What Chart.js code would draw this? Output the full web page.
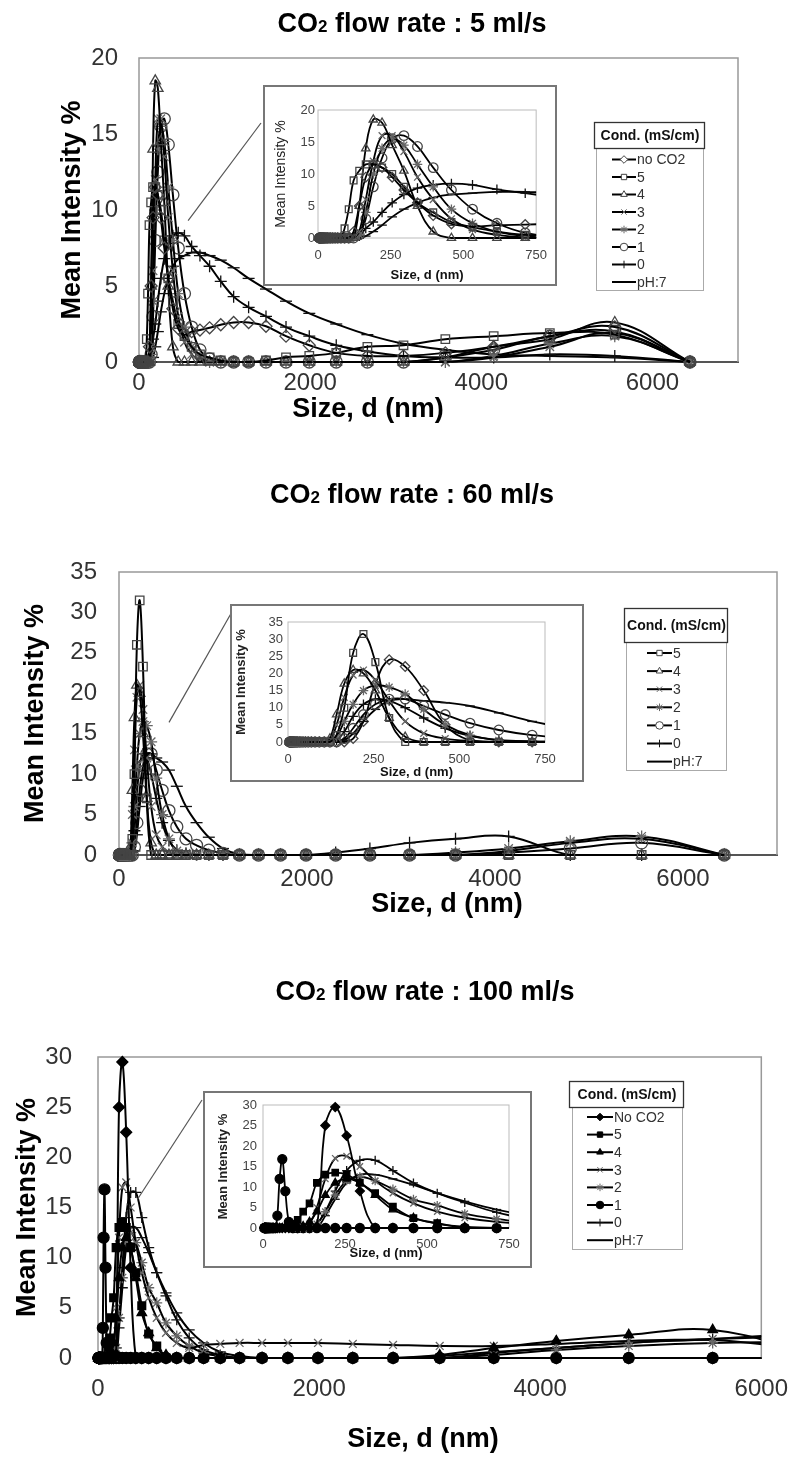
<!DOCTYPE html>
<html>
<head>
<meta charset="utf-8">
<script src="https://cdn.jsdelivr.net/npm/chart.js@4.4.1/dist/chart.umd.min.js"></script>
<style>
  body { margin: 0; background: #fff; width: 805px; height: 1457px; position: relative; overflow: hidden; }
  canvas { position: absolute; display: block; }
  canvas.inset { background: #fff; }
</style>
</head>
<body>
<canvas id="main1" width="805" height="440" style="left:0;top:0"></canvas>
<canvas id="inset1" class="inset" width="294" height="201" style="left:263px;top:85px"></canvas>
<canvas id="main2" width="805" height="460" style="left:0;top:470px"></canvas>
<canvas id="inset2" class="inset" width="354" height="178" style="left:230px;top:604px"></canvas>
<canvas id="main3" width="805" height="497" style="left:0;top:960px"></canvas>
<canvas id="inset3" class="inset" width="329" height="177" style="left:203px;top:1091px"></canvas>

<script>
// ---------------------------------------------------------------
// data : size bins (nm) and mean intensity (%) per conductivity
// ---------------------------------------------------------------
const SIZES = [4.187, 4.849, 5.615, 6.503, 7.531, 8.721, 10.1, 11.7, 13.54, 15.69,
  18.17, 21.04, 24.36, 28.21, 32.67, 37.84, 43.82, 50.75, 58.77, 68.06,
  78.82, 91.28, 105.7, 122.4, 141.8, 164.2, 190.1, 220.2, 255.0, 295.3,
  342.0, 396.1, 458.7, 531.2, 615.1, 712.4, 825.0, 955.4, 1106, 1281,
  1484, 1718, 1990, 2305, 2669, 3091, 3580, 4145, 4801, 5560, 6439];

const X_TICKS_MAIN = [0, 2000, 4000, 6000];
const X_TICKS_INSET = [0, 250, 500, 750];

// CO2 flow rate : 5 ml/s
const p1NoCO2 = [0,0,0,0,0,0,0,0,0,0, 0,0,0,0,0,0,0,0,0,0,
  0,0,0,1,5,9.5,11.5,11,9.5,7.5, 5.5,3.5,2.2,1.8,2.0,2.1,2.25,2.45,2.6,2.6,
  2.35,1.7,1.1,0.6,0.4,0.4,0.6,1.0,1.7,2.3,0];
const p1C5 = [0,0,0,0,0,0,0,0,0,0, 0,0,0,0,0,0,0,0,0,0,
  0,1.5,4.5,9,10.5,11.5,11.5,11,10,8, 5.5,4,2.5,1.7,1.0,0.5,0.3,0.1,0,0,
  0.1,0.3,0.4,0.6,1.0,1.1,1.5,1.7,1.9,1.8,0];
const p1C4 = [0,0,0,0,0,0,0,0,0,0, 0,0,0,0,0,0,0,0,0,0,
  0,0,0,0,5,14,18.5,18,14.5,10.5, 5,1,0,0,0,0,0,0,0,0,
  0,0,0,0,0,0,0.3,1.0,1.5,2.6,0];
const p1C3 = [0,0,0,0,0,0,0,0,0,0, 0,0,0,0,0,0,0,0,0,0,
  0,0,0,0,1,6,12,16,16,13.5, 9.5,6,3,1.3,0.5,0.1,0,0,0,0,
  0,0,0,0,0,0,0,0.3,1.0,1.9,0];
const p1C2 = [0,0,0,0,0,0,0,0,0,0, 0,0,0,0,0,0,0,0,0,0,
  0,0,0,0,0.5,4,10,14,15.5,14.5, 11.5,8,4.5,2.3,1,0.3,0,0,0,0,
  0,0,0,0,0,0,0,0.4,1.2,1.7,0];
const p1C1 = [0,0,0,0,0,0,0,0,0,0, 0,0,0,0,0,0,0,0,0,0,
  0,0,0,0,0.5,3,8,12.5,15.5,16, 14.3,11,7.5,4.5,2.3,0.8,0.2,0,0,0,
  0,0,0,0,0,0,0.3,0.8,1.7,2.0,0];
const p1C0 = [0,0,0,0,0,0,0,0,0,0, 0,0,0,0,0,0,0,0,0,0,
  0,0,0,0,0.3,1.5,2.5,4,5.5,6.8, 7.8,8.3,8.5,8.3,7.6,7.0,6.3,5.3,4.3,3.6,
  3.0,2.3,1.7,1.1,0.7,0.4,0.3,0.3,0.5,0.4,0];
const p1PH7 = [0,0,0,0,0,0,0,0,0,0, 0,0,0,0,0,0,0,0,0,0,
  0,0,0,0,0,0.3,1,2,3.3,4.5, 5.5,6.3,6.8,7.0,7.2,7.2,7.0,6.7,6.2,5.5,
  4.8,4.0,3.2,2.5,1.8,1.2,0.8,0.5,0.4,0.3,0];

// CO2 flow rate : 60 ml/s
const p2C5 = [0,0,0,0,0,0,0,0,0,0, 0,0,0,0,0,0,0,0,0,0,
  0,0,0,0,2,10,26,31.5,23.3,7, 0,0,0,0,0,0,0,0,0,0,
  0,0,0,0,0,0,0,0,0,0,0];
const p2C4 = [0,0,0,0,0,0,0,0,0,0, 0,0,0,0,0,0,0,0,0,0,
  0,0,0,1,8,17,21,20,15,7, 1.5,0,0,0,0,0,0,0,0,0,
  0,0,0,0,0,0,0,0,0,0,0];
const p2C3 = [0,0,0,0,0,0,0,0,0,0, 0,0,0,0,0,0,0,0,0,0,
  0,0,0,0.5,5,13,19.5,21,18,12, 6,2.5,1,0.3,0,0,0,0,0,0,
  0,0,0,0,0,0,0,0.5,1.5,2.0,0];
const p2C2 = [0,0,0,0,0,0,0,0,0,0, 0,0,0,0,0,0,0,0,0,0,
  0,0,0,0,1.5,6,11,15,16.5,16, 14,9.5,5,2,0.5,0.2,0,0,0,0,
  0,0,0,0,0,0,0.3,0.8,1.7,2.3,0];
const p2C1 = [0,0,0,0,0,0,0,0,0,0, 0,0,0,0,0,0,0,0,0,0,
  0,0,0,0,0,1,4,8,11,12.5, 12.5,10.5,8,5.5,3.5,2,1.2,0.6,0.2,0,
  0,0,0,0,0,0,0,0.3,0.8,1.5,0];
const p2C0 = [0,0,0,0,0,0,0,0,0,0, 0,0,0,0,0,0,0,0,0,0,
  0,0,0,0,0.5,3,7.5,11,12.5,12, 10,7,4,1.8,0.6,0.2,0,0,0,0,
  0,0,0,0.3,0.8,1.5,2.0,2.3,0,0,0];
const p2PH7 = [0,0,0,0,0,0,0,0,0,0, 0,0,0,0,0,0,0,0,0,0,
  0,0,0,0,0,0.5,2.5,6,9.5,12, 12.5,12,11.5,10.5,8.5,6,4,2.2,0.8,0.1,
  0,0,0,0,0,0,0,0,0,0,0];
const p2Extra = [0,0,0,0,0,0,0,0,0,0, 0,0,0,0,0,0,0,0,0,0,
  0,0,0,0,0,0,1,6,17,24, 22,15,5,0.5,0,0,0,0,0,0,
  0,0,0,0,0,0,0,0,0,0,0];

// CO2 flow rate : 100 ml/s
const p3NoCO2 = [0,0,0,0,0,0,0,0,0,0, 0,0,0,0,0,0,0,0,0,0,
  0,0,0,0,0,0.3,25,29.5,22.5,9, 0,0,0,0,0,0,0,0,0,0,
  0,0,0,0,0,0,0,0,0,0,0];
const p3C5 = [0,0,0,0,0,0,0,0,0,0, 0,0,0,0,0,0,0,0,0,0,
  0,1,2,4,6,11,13,13.5,13,11, 8.5,5.2,2.4,1.2,0,0,0,0,0,0,
  0,0,0,0,0,0,0,0,0,0,0];
const p3C4 = [0,0,0,0,0,0,0,0,0,0, 0,0,0,0,0,0,0,0,0,0,
  0,0,0,0.5,1.5,4,8,11,12,11, 8,4.5,2.5,1,0.3,0,0,0,0,0,
  0,0,0,0,0,0.3,1.0,1.7,2.3,2.8,0.5];
const p3C3 = [0,0,0,0,0,0,0,0,0,0, 0,0,0,0,0,0,0,0,0,0,
  0,0,0,0,1,5,12,17,17.5,15, 11.5,8.5,6,4,2.5,1.5,1,1.3,1.4,1.5,
  1.5,1.5,1.5,1.4,1.3,1.2,1.2,1.4,1.7,1.9,2.2];
const p3C2 = [0,0,0,0,0,0,0,0,0,0, 0,0,0,0,0,0,0,0,0,0,
  0,0,0,0,0,1,4,8,11.5,12.5, 11.5,9.5,7,5.5,3.5,2.2,1.2,0.5,0.2,0,
  0,0,0,0,0,0,0.3,0.8,1.2,1.5,1.6];
const p3C1 = [0,0,0,0,0,0,0,0,0,0, 0,0,0,0,0,0,3,12,16.8,9,
  1.5,0,0,0,0,0,0,0,0,0, 0,0,0,0,0,0,0,0,0,0,
  0,0,0,0,0,0,0,0,0,0,0];
const p3C0 = [0,0,0,0,0,0,0,0,0,0, 0,0,0,0,0,0,0,0,0,0,
  0,0,0,0,0,1,4,9,14,16.5, 16.5,14,11,8.5,6.2,3.8,2,0.8,0.3,0,
  0,0,0,0,0,0.2,0.6,1.0,1.5,1.9,2.5];
const p3PH7 = [0,0,0,0,0,0,0,0,0,0, 0,0,0,0,0,0,0,0,0,0,
  0,0,0,0,0,0,3,7,11,13, 13,12,10.5,8.5,6.5,4.5,2.8,1.5,0.6,0.2,
  0,0,0,0,0,0,0.5,1.0,1.5,1.8,0.8];

const LEGEND_1 = ['no CO2', '5', '4', '3', '2', '1', '0', 'pH:7'];
const LEGEND_2 = ['5', '4', '3', '2', '1', '0', 'pH:7'];
const LEGEND_3 = ['No CO2', '5', '4', '3', '2', '1', '0', 'pH:7'];

// ---------------------------------------------------------------
// look
// ---------------------------------------------------------------
const FONT = '"Liberation Sans", Arial, Helvetica, sans-serif';
Chart.defaults.font.family = FONT;

const ST_ALL = ['rectRot', 'rect', 'triangle', 'crossRot', 'star', 'circle', 'cross', 'line'];
const ST_60 = ['rect', 'triangle', 'crossRot', 'star', 'circle', 'cross', 'line'];
const FILL_100 = [true, true, true, false, false, true, false, false];

const drawPoint = (Chart.helpers && Chart.helpers.drawPoint) ? Chart.helpers.drawPoint : null;

function markColor(style, fill) {
  if (fill) return '#000';
  if (style === 'crossRot' || style === 'star') return '#666';
  if (style === 'cross' || style === 'line') return '#111';
  return '#444';
}

function dataset(vals, style, fill, r, lw, clip) {
  return {
    data: SIZES.map((s, i) => ({ x: s, y: vals[i] })),
    showLine: true,
    tension: 0.4,
    borderColor: '#000',
    borderWidth: lw,
    pointStyle: style,
    pointRadius: r,
    pointBorderWidth: 1.3,
    pointBorderColor: markColor(style, fill),
    pointBackgroundColor: fill ? '#000' : 'rgba(0,0,0,0)',
    clip: clip
  };
}

function drawTitle(ctx, t, off) {
  const big = 'bold ' + t.size + 'px ' + FONT;
  const small = 'bold ' + Math.round(t.size * 0.62) + 'px ' + FONT;
  ctx.save();
  ctx.fillStyle = '#000';
  ctx.textBaseline = 'alphabetic';
  ctx.textAlign = 'left';
  ctx.font = big;
  const w1 = ctx.measureText('CO').width;
  const w3 = ctx.measureText(t.rest).width;
  ctx.font = small;
  const w2 = ctx.measureText('2').width;
  let x = t.cx - (w1 + w2 + w3) / 2;
  const y = t.y - off;
  ctx.font = big; ctx.fillText('CO', x, y); x += w1;
  ctx.font = small; ctx.fillText('2', x, y); x += w2;
  ctx.font = big; ctx.fillText(t.rest, x, y);
  ctx.restore();
}

function drawLegend(ctx, L, off) {
  ctx.save();
  ctx.strokeStyle = '#aaa';
  ctx.lineWidth = 1;
  ctx.strokeRect(L.ix + 0.5, L.iy - off + 0.5, L.iw, L.ih);
  ctx.fillStyle = '#fff';
  ctx.fillRect(L.tx, L.ty - off, L.tw, L.th);
  ctx.strokeStyle = '#333';
  ctx.lineWidth = 1.3;
  ctx.strokeRect(L.tx + 0.5, L.ty - off + 0.5, L.tw, L.th);
  ctx.font = 'bold 14px ' + FONT;
  ctx.fillStyle = '#111';
  ctx.textAlign = 'center';
  ctx.textBaseline = 'middle';
  ctx.fillText('Cond. (mS/cm)', L.tx + L.tw / 2 + 1, L.ty - off + L.th / 2 + 1);
  ctx.font = '14px ' + FONT;
  ctx.textAlign = 'left';
  L.names.forEach((name, i) => {
    const y = L.y0 + i * L.dy - off;
    ctx.strokeStyle = '#000';
    ctx.lineWidth = 2;
    ctx.beginPath();
    ctx.moveTo(L.l1, y);
    ctx.lineTo(L.l2, y);
    ctx.stroke();
    const st = L.styles[i];
    const fill = L.fills ? L.fills[i] : false;
    if (drawPoint && st !== 'line') {
      ctx.fillStyle = fill ? '#000' : '#fff';
      ctx.strokeStyle = markColor(st, fill);
      ctx.lineWidth = 1;
      drawPoint(ctx, { pointStyle: st, rotation: 0, radius: 3.8, borderWidth: 1 }, (L.l1 + L.l2) / 2, y);
    }
    ctx.fillStyle = '#333';
    ctx.fillText(name, L.l2 + 1, y + 1);
  });
  ctx.restore();
}

function decoMain(cfg) {
  return {
    id: 'decoMain',
    beforeDatasetsDraw(chart) {
      const a = chart.chartArea, ctx = chart.ctx;
      ctx.save();
      ctx.strokeStyle = '#999';
      ctx.lineWidth = 1.5;
      ctx.beginPath();
      ctx.moveTo(a.left, a.bottom);
      ctx.lineTo(a.left, a.top);
      ctx.lineTo(a.right, a.top);
      ctx.lineTo(a.right, a.bottom);
      ctx.stroke();
      ctx.restore();
    },
    afterDraw(chart) {
      const ctx = chart.ctx, off = cfg.off;
      drawTitle(ctx, cfg.title, off);
      // x axis title, placed where the original author left it
      ctx.save();
      ctx.font = 'bold 27px ' + FONT;
      ctx.fillStyle = '#000';
      ctx.textAlign = 'center';
      ctx.textBaseline = 'middle';
      ctx.fillText('Size, d (nm)', cfg.xTitle.cx, cfg.xTitle.cy - off);
      ctx.restore();
      const z = cfg.zoom;
      ctx.save();
      ctx.strokeStyle = '#555';
      ctx.lineWidth = 1.2;
      ctx.beginPath();
      ctx.moveTo(chart.scales.x.getPixelForValue(z.x), chart.scales.y.getPixelForValue(z.y));
      ctx.lineTo(z.ex, z.ey - off);
      ctx.stroke();
      ctx.restore();
      drawLegend(ctx, cfg.legend, off);
    }
  };
}

function mainChart(id, cfg, sets) {
  return new Chart(document.getElementById(id), {
    type: 'scatter',
    data: { datasets: sets },
    options: {
      responsive: false,
      animation: false,
      events: [],
      layout: { padding: { left: 0, top: cfg.top, right: cfg.right, bottom: 0 } },
      plugins: { legend: { display: false }, tooltip: { enabled: false } },
      scales: {
        x: {
          type: 'linear', min: 0, max: cfg.xMax,
          afterFit: s => { s.height = cfg.xH; },
          afterBuildTicks: s => { s.ticks = X_TICKS_MAIN.map(v => ({ value: v })); },
          ticks: { padding: cfg.xTickPad, font: { size: 24 }, color: '#333', maxRotation: 0, autoSkip: false, callback: v => String(v) },
          grid: { display: false, drawTicks: false },
          border: { display: true, color: '#555', width: 2 },
          title: { display: false }
        },
        y: {
          min: 0, max: cfg.yMax,
          afterFit: s => { s.width = cfg.yW; },
          ticks: { stepSize: 5, padding: cfg.yTickPad, font: { size: 24 }, color: '#333', autoSkip: false },
          grid: { display: false, drawTicks: false },
          border: { display: false },
          title: { display: true, text: 'Mean Intensity %', color: '#000', font: { size: 27, weight: 'bold' }, padding: { top: cfg.yTitlePad, bottom: 0 } }
        }
      }
    },
    plugins: [decoMain(cfg)]
  });
}

function decoInset() {
  return {
    id: 'decoInset',
    beforeDatasetsDraw(chart) {
      const a = chart.chartArea, ctx = chart.ctx;
      ctx.save();
      ctx.strokeStyle = '#bbb';
      ctx.lineWidth = 1;
      ctx.strokeRect(a.left, a.top, a.right - a.left, a.bottom - a.top);
      ctx.restore();
    },
    afterDraw(chart) {
      const ctx = chart.ctx;
      ctx.save();
      ctx.strokeStyle = '#777';
      ctx.lineWidth = 2;
      ctx.strokeRect(1, 1, chart.width - 2, chart.height - 2);
      ctx.restore();
    }
  };
}

function insetChart(id, cfg, sets) {
  return new Chart(document.getElementById(id), {
    type: 'scatter',
    data: { datasets: sets },
    options: {
      responsive: false,
      animation: false,
      events: [],
      layout: { padding: { left: 0, top: cfg.top, right: cfg.right, bottom: 0 } },
      plugins: { legend: { display: false }, tooltip: { enabled: false } },
      scales: {
        x: {
          type: 'linear', min: 0, max: 750,
          afterFit: s => { s.height = cfg.xH; },
          afterBuildTicks: s => { s.ticks = X_TICKS_INSET.map(v => ({ value: v })); },
          ticks: { padding: cfg.xTickPad, font: { size: 13 }, color: '#444', maxRotation: 0, autoSkip: false },
          grid: { display: false, drawTicks: false },
          border: { display: false },
          title: { display: true, text: 'Size, d (nm)', color: '#111', font: { size: 13, weight: 'bold' }, padding: { top: 0, bottom: cfg.xTitlePad } }
        },
        y: {
          min: 0, max: cfg.yMax,
          afterFit: s => { s.width = cfg.yW; },
          ticks: { stepSize: 5, padding: cfg.yTickPad, font: { size: 13 }, color: '#444', autoSkip: false },
          grid: { display: false, drawTicks: false },
          border: { display: false },
          title: { display: true, text: 'Mean Intensity %', color: '#222', font: { size: cfg.yTitleSize, weight: cfg.yTitleWeight }, padding: { top: cfg.yTitlePad, bottom: 0 } }
        }
      }
    },
    plugins: [decoInset()]
  });
}

// ---------------------------------------------------------------
// panel 1 : 5 ml/s
// ---------------------------------------------------------------
const P1 = [p1NoCO2, p1C5, p1C4, p1C3, p1C2, p1C1, p1C0, p1PH7];
const clipMain = { left: 10, top: 10, right: 10, bottom: 10 };
const clipCut = { left: 8, top: 8, right: 0, bottom: 8 };

mainChart('main1', {
  off: 0, xMax: 7000, yMax: 20, top: 58, right: 67, yW: 139, xH: 78,
  yTickPad: 21, yTitlePad: 56, xTickPad: 7,
  title: { cx: 412, y: 32, size: 27, rest: ' flow rate : 5 ml/s' },
  xTitle: { cx: 368, cy: 410 },
  zoom: { x: 574, y: 9.3, ex: 261, ey: 123 },
  legend: { names: LEGEND_1, styles: ST_ALL, tx: 594, ty: 122, tw: 110, th: 26, ix: 596, iy: 148, iw: 107, ih: 142,
            y0: 159.5, dy: 17.5, l1: 612, l2: 636 }
}, P1.map((v, i) => dataset(v, ST_ALL[i], false, 6, 2, clipMain)));

insetChart('inset1', {
  yMax: 20, top: 25, right: 20, yW: 55, xH: 48, yTickPad: 3, yTitlePad: 10, xTickPad: 10, xTitlePad: 3,
  yTitleSize: 14, yTitleWeight: 'normal'
}, P1.map((v, i) => dataset(v, ST_ALL[i], false, 4.8, 1.8, clipCut)));

// ---------------------------------------------------------------
// panel 2 : 60 ml/s
// ---------------------------------------------------------------
const P2 = [p2C5, p2C4, p2C3, p2C2, p2C1, p2C0, p2PH7];

mainChart('main2', {
  off: 470, xMax: 7000, yMax: 35, top: 102, right: 28, yW: 119, xH: 75,
  yTickPad: 22, yTitlePad: 19, xTickPad: 10,
  title: { cx: 412, y: 503, size: 27, rest: ' flow rate : 60 ml/s' },
  xTitle: { cx: 447, cy: 905 },
  zoom: { x: 532, y: 16.4, ex: 233, ey: 610 },
  legend: { names: LEGEND_2, styles: ST_60, tx: 624, ty: 608, tw: 103, th: 34, ix: 626, iy: 642, iw: 100, ih: 128,
            y0: 653, dy: 18.1, l1: 647, l2: 672 }
}, P2.map((v, i) => dataset(v, ST_60[i], false, 6, 2, clipMain)));

insetChart('inset2', {
  yMax: 35, top: 18, right: 39, yW: 58, xH: 40, yTickPad: 5, yTitlePad: 4, xTickPad: 10, xTitlePad: 2,
  yTitleSize: 13, yTitleWeight: 'bold'
}, P2.map((v, i) => dataset(v, ST_60[i], false, 4.8, 1.8, clipCut))
    .concat([dataset(p2Extra, 'rectRot', false, 4.8, 1.8, clipCut)]));

// ---------------------------------------------------------------
// panel 3 : 100 ml/s
// ---------------------------------------------------------------
const P3 = [p3NoCO2, p3C5, p3C4, p3C3, p3C2, p3C1, p3C0, p3PH7];

mainChart('main3', {
  off: 960, xMax: 6000, yMax: 30, top: 97, right: 32, yW: 98, xH: 99,
  yTickPad: 26, yTitlePad: 11, xTickPad: 17,
  title: { cx: 425, y: 1000, size: 27, rest: ' flow rate : 100 ml/s' },
  xTitle: { cx: 423, cy: 1440 },
  zoom: { x: 356, y: 15.8, ex: 202, ey: 1100 },
  legend: { names: LEGEND_3, styles: ST_ALL, fills: FILL_100, tx: 569, ty: 1081, tw: 114, th: 26, ix: 572, iy: 1107, iw: 110, ih: 142,
            y0: 1117, dy: 17.6, l1: 587, l2: 613 }
}, P3.map((v, i) => dataset(v, ST_ALL[i], FILL_100[i], 5.5, 2, { left: 10, top: 10, right: 0, bottom: 10 })));

insetChart('inset3', {
  yMax: 30, top: 14, right: 23, yW: 60, xH: 40, yTickPad: 6, yTitlePad: 13, xTickPad: 9, xTitlePad: 7,
  yTitleSize: 13, yTitleWeight: 'bold'
}, P3.map((v, i) => dataset(v, ST_ALL[i], FILL_100[i], 4.5, 1.8, clipCut)));
</script>
</body>
</html>
